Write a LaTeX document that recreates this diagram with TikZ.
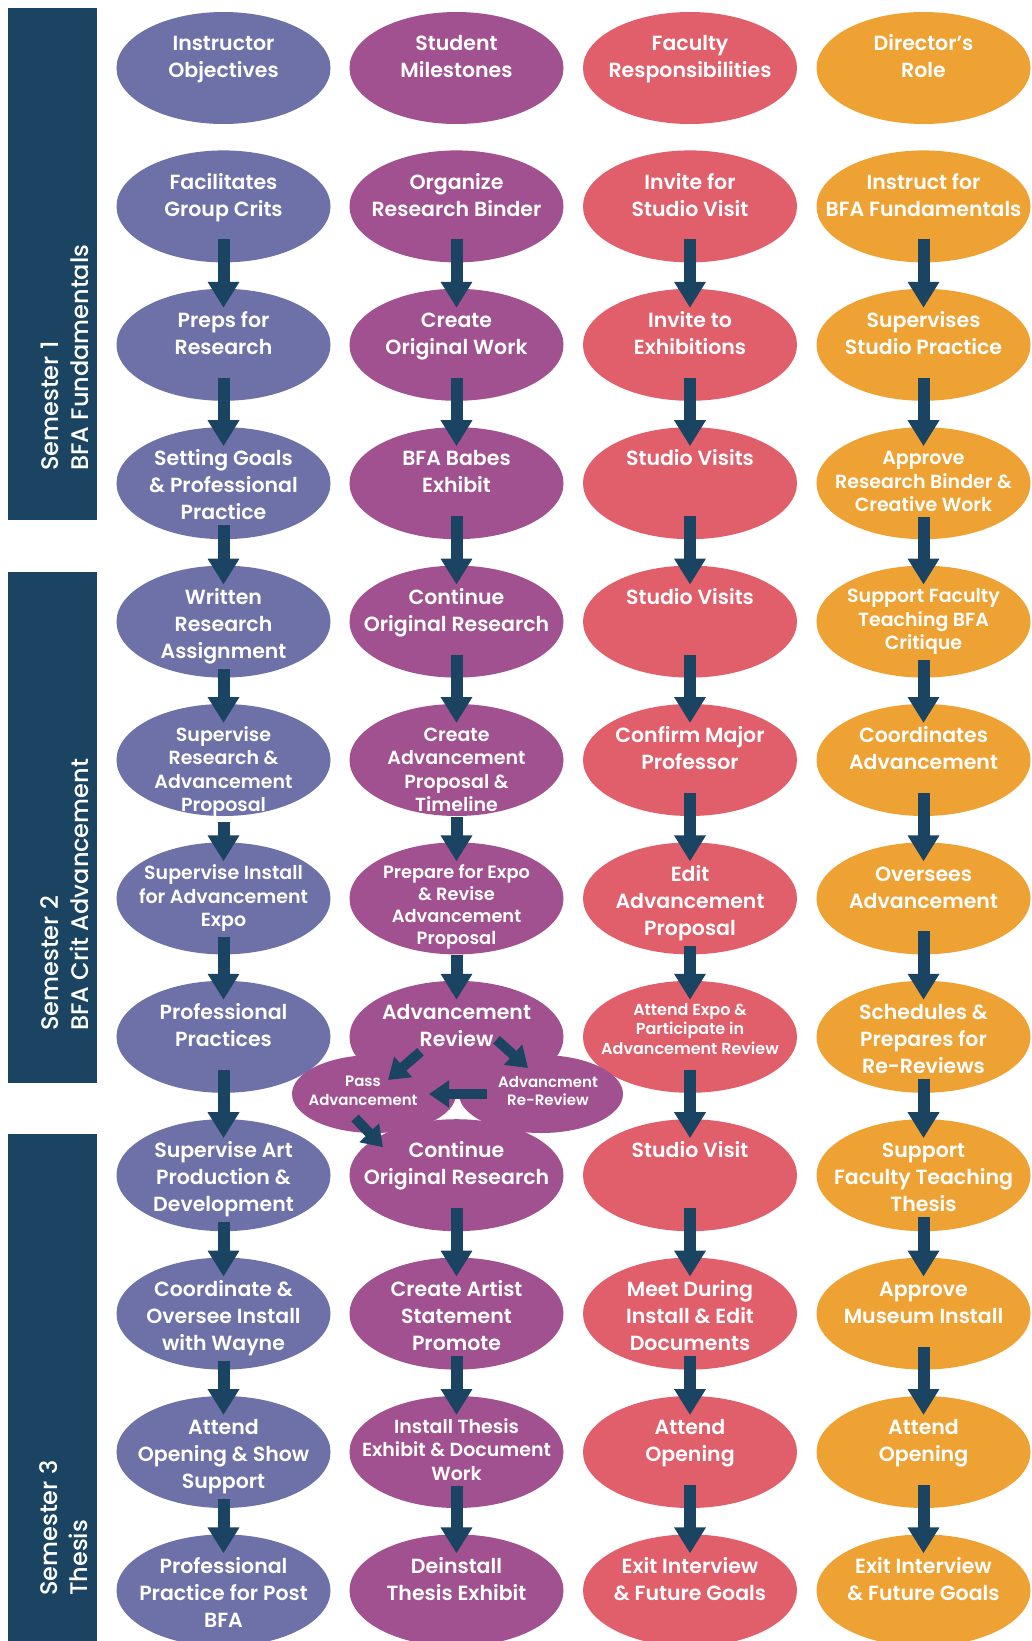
\documentclass[tikz,border=0pt]{standalone}
\usepackage{fontspec}
\usetikzlibrary{shapes.geometric,arrows.meta,calc}
\IfFontExistsTF{Poppins SemiBold}{\newfontfamily\nodefont{Poppins SemiBold}}{\newfontfamily\nodefont{Poppins}}
\IfFontExistsTF{Poppins Medium}{\newfontfamily\sidefont{Poppins Medium}}{\newfontfamily\sidefont{Poppins}}
\definecolor{cA}{HTML}{6D71A7}
\definecolor{cB}{HTML}{A15190}
\definecolor{cC}{HTML}{E05F6B}
\definecolor{cD}{HTML}{EFA234}
\definecolor{navy}{HTML}{1A4462}
\tikzset{
  bubble/.style={ellipse, minimum width=214pt, minimum height=112pt, inner sep=0pt, draw=none},
  tbase/.style={text=white, align=center, inner sep=0pt, anchor=north, yshift=36pt},
  tmain/.style={tbase, font=\nodefont\fontsize{20.5}{27}\selectfont},
  tmid/.style={tbase, font=\nodefont\fontsize{19}{23.5}\selectfont},
  tmidb/.style={tbase, font=\nodefont\fontsize{17.8}{22}\selectfont},
  tsmall/.style={tbase, font=\nodefont\fontsize{16}{19.5}\selectfont},
  ttiny/.style={text=white, align=center, inner sep=0pt, font=\nodefont\fontsize{15}{18.5}\selectfont},
  barbox/.style={rectangle, fill=navy, draw=none, inner sep=0pt, minimum width=89pt},
  sidelbl/.style={font=\sidefont\fontsize{24}{30}\selectfont, text=white, align=left, rotate=90, anchor=west, inner sep=0pt},
  arr/.style={draw=navy, line width=12pt, -{Triangle[width=30pt,length=26pt]}},
  arrs/.style={draw=navy, line width=10pt, -{Triangle[width=26pt,length=20pt]}}
}
\newcommand\bub[6]{\node[bubble,fill=#4] (#1) at (#2,#3) {};\node[#5] (t#1) at (#1.center) {\rule{0pt}{0.9em}#6};}
\newcommand\flow[2]{\draw[arr] let \p1=(#1.center),\p2=(t#1.south),\p3=(t#2.north) in (\x1,{min(\y1-33pt,\y2-5pt)}) -- (\x1,{\y3+1pt});}
\begin{document}
\begin{tikzpicture}[x=1pt,y=-1pt]
\fill[white] (0,0) rectangle (1031,1641);
\useasboundingbox (0,0) rectangle (1031,1641);
% sidebars
\node[barbox, minimum height=512pt] (s1) at (52.5,264) {};
\node[barbox, minimum height=511pt] (s2) at (52.5,827.5) {};
\node[barbox, minimum height=520pt] (s3) at (52.5,1394) {};
\node[sidelbl] (s1t) at (65,471) {Semester 1\\BFA Fundamentals};
\node[sidelbl] (s2t) at (65,1031) {Semester 2\\BFA Crit Advancement};
\node[sidelbl] (s3t) at (64,1596) {Semester 3\\Thesis};
% row 1
\bub{a1}{223.5}{68}{cA}{tmain}{Instructor\\Objectives}
\bub{b1}{456.5}{68}{cB}{tmain}{Student\\Milestones}
\bub{c1}{690}{68}{cC}{tmain}{Faculty\\Responsibilities}
\bub{d1}{923.5}{68}{cD}{tmain}{Director’s\\Role}
% row 2
\bub{a2}{223.5}{206.4}{cA}{tmain}{Facilitates\\Group Crits}
\bub{b2}{456.5}{206.4}{cB}{tmain}{Organize\\Research Binder}
\bub{c2}{690}{206.4}{cC}{tmain}{Invite for\\Studio Visit}
\bub{d2}{923.5}{206.4}{cD}{tmain}{Instruct for\\BFA Fundamentals}
% row 3
\bub{a3}{223.5}{344.8}{cA}{tmain}{Preps for\\Research}
\bub{b3}{456.5}{344.8}{cB}{tmain}{Create\\Original Work}
\bub{c3}{690}{344.8}{cC}{tmain}{Invite to\\Exhibitions}
\bub{d3}{923.5}{344.8}{cD}{tmain}{Supervises\\Studio Practice}
% row 4
\bub{a4}{223.5}{483.2}{cA}{tmain}{Setting Goals\\\& Professional\\Practice}
\bub{b4}{456.5}{483.2}{cB}{tmain}{BFA Babes\\Exhibit}
\bub{c4}{690}{483.2}{cC}{tmain}{Studio Visits}
\bub{d4}{923.5}{483.2}{cD}{tmid}{Approve\\Research Binder \&\\Creative Work}
% row 5
\bub{a5}{223.5}{621.6}{cA}{tmain}{Written\\Research\\Assignment}
\bub{b5}{456.5}{621.6}{cB}{tmain}{Continue\\Original Research}
\bub{c5}{690}{621.6}{cC}{tmain}{Studio Visits}
\bub{d5}{923.5}{621.6}{cD}{tmid}{Support Faculty\\Teaching BFA\\Critique}
% row 6
\bub{a6}{223.5}{760}{cA}{tmid}{Supervise\\Research \&\\Advancement\\Proposal}
\bub{b6}{456.5}{760}{cB}{tmid}{Create\\Advancement\\Proposal \&\\Timeline}
\bub{c6}{690}{760}{cC}{tmain}{Confirm Major\\Professor}
\bub{d6}{923.5}{760}{cD}{tmain}{Coordinates\\Advancement}
% row 7
\bub{a7}{223.5}{898.4}{cA}{tmid}{Supervise Install\\for Advancement\\Expo}
\bub{b7}{456.5}{898.4}{cB}{tmidb}{Prepare for Expo\\\& Revise\\Advancement\\Proposal}
\bub{c7}{690}{898.4}{cC}{tmain}{Edit\\Advancement\\Proposal}
\bub{d7}{923.5}{898.4}{cD}{tmain}{Oversees\\Advancement}
% row 8
\bub{a8}{223.5}{1036.8}{cA}{tmain}{Professional\\Practices}
\bub{b8}{456.5}{1036.8}{cB}{tmain}{Advancement\\Review}
\bub{c8}{690}{1036.8}{cC}{tsmall}{Attend Expo \&\\Participate in\\Advancement Review}
\bub{d8}{923.5}{1036.8}{cD}{tmain}{Schedules \&\\Prepares for\\Re-Reviews}
% row 9
\bub{a9}{223.5}{1175.2}{cA}{tmain}{Supervise Art\\Production \&\\Development}
\bub{b9}{456.5}{1175.2}{cB}{tmain}{Continue\\Original Research}
\bub{c9}{690}{1175.2}{cC}{tmain}{Studio Visit}
\bub{d9}{923.5}{1175.2}{cD}{tmain}{Support\\Faculty Teaching\\Thesis}
% row 10
\bub{a10}{223.5}{1313.6}{cA}{tmain}{Coordinate \&\\Oversee Install\\with Wayne}
\bub{b10}{456.5}{1313.6}{cB}{tmain}{Create Artist\\Statement\\Promote}
\bub{c10}{690}{1313.6}{cC}{tmain}{Meet During\\Install \& Edit\\Documents}
\bub{d10}{923.5}{1313.6}{cD}{tmain}{Approve\\Museum Install}
% row 11
\bub{a11}{223.5}{1452}{cA}{tmain}{Attend\\Opening \& Show\\Support}
\bub{b11}{456.5}{1452}{cB}{tmid}{Install Thesis\\Exhibit \& Document\\Work}
\bub{c11}{690}{1452}{cC}{tmain}{Attend\\Opening}
\bub{d11}{923.5}{1452}{cD}{tmain}{Attend\\Opening}
% row 12
\bub{a12}{223.5}{1590.4}{cA}{tmain}{Professional\\Practice for Post\\BFA}
\bub{b12}{456.5}{1590.4}{cB}{tmain}{Deinstall\\Thesis Exhibit}
\bub{c12}{690}{1590.4}{cC}{tmain}{Exit Interview\\\& Future Goals}
\bub{d12}{923.5}{1590.4}{cD}{tmain}{Exit Interview\\\& Future Goals}
% advancement review cluster
\node[bubble, fill=cB, minimum width=164pt, minimum height=78pt] (pass) at (374,1094) {};
\node[bubble, fill=cB, minimum width=164pt, minimum height=78pt] (rer) at (541,1094) {};
\node[ttiny] (passt) at (363,1091) {Pass\\Advancement};
\node[ttiny] (rert) at (548,1091) {Advancment\\Re-Review};
% arrows
\foreach \cc in {a,c,d}{
  \foreach \rr [evaluate=\rr as \nn using int(\rr+1)] in {2,...,11}{
    \flow{\cc\rr}{\cc\nn}
  }
}
\foreach \rr [evaluate=\rr as \nn using int(\rr+1)] in {2,...,7,9,10,11}{
  \flow{b\rr}{b\nn}
}
\draw[arrs] ([shift={(-36pt,-15pt)}]b8.center) -- ([shift={(14pt,14pt)}]pass.center);
\draw[arrs] ([shift={(40pt,-3pt)}]b8.center) -- ([shift={(-13pt,26pt)}]rer.center);
\draw[arrs] ([shift={(-54pt,0pt)}]rer.center) -- ([shift={(55pt,0pt)}]pass.center);
\draw[arrs] ([shift={(-19pt,-24pt)}]pass.center) -- ([shift={(-73.5pt,28pt)}]b9.center);
\end{tikzpicture}
\end{document}
